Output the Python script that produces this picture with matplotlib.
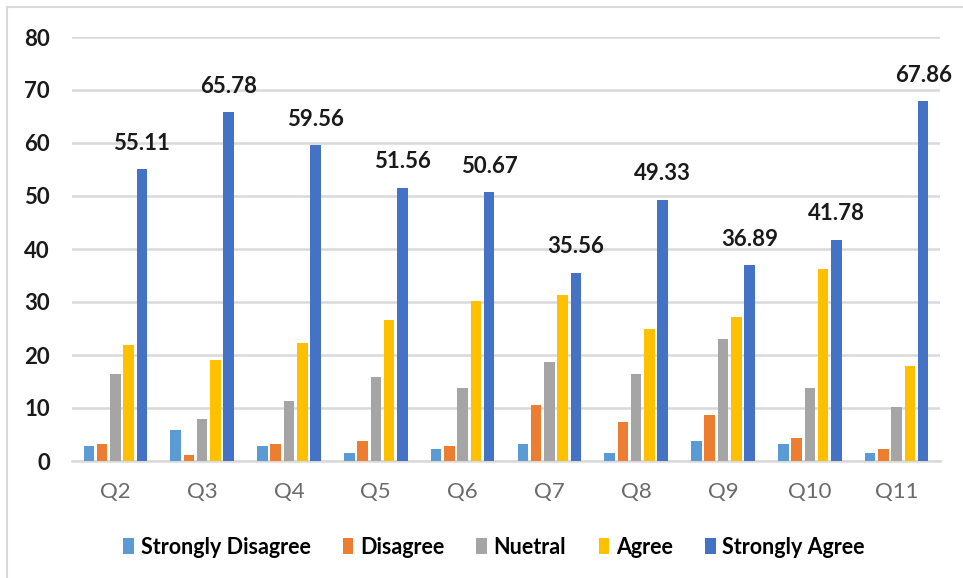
import numpy as np
import matplotlib
matplotlib.use('Agg')
import matplotlib.pyplot as plt
from matplotlib.patches import Patch

plt.rcParams['font.family'] = ['Lato', 'DejaVu Sans']

questions = ['Q2', 'Q3', 'Q4', 'Q5', 'Q6', 'Q7', 'Q8', 'Q9', 'Q10', 'Q11']
series_names = ['Strongly Disagree', 'Disagree', 'Nuetral', 'Agree', 'Strongly Agree']

strongly_disagree = [2.8, 5.8, 2.8, 1.6, 2.2, 3.3, 1.6, 3.8, 3.3, 1.6]
disagree = [3.3, 1.1, 3.3, 3.8, 2.9, 10.6, 7.4, 8.7, 4.3, 2.2]
neutral = [16.4, 7.9, 11.3, 15.9, 13.8, 18.6, 16.4, 23.0, 13.8, 10.1]
agree = [21.8, 19.1, 22.2, 26.6, 30.2, 31.4, 24.9, 27.1, 36.3, 17.9]
strongly_agree = [55.11, 65.78, 59.56, 51.56, 50.67, 35.56, 49.33, 36.89, 41.78, 67.86]

colors = ['#5B9BD5', '#ED7D31', '#A5A5A5', '#FFC000', '#4472C4']
values = [strongly_disagree, disagree, neutral, agree, strongly_agree]

fig = plt.figure(figsize=(9.63, 5.78), dpi=100)
ax = fig.add_axes([72 / 963, 1 - 461 / 578, 868 / 963, 424 / 578])

x = np.arange(len(questions))
step = 0.153
width = 0.122
for i, (vals, c) in enumerate(zip(values, colors)):
    ax.bar(x + (i - 2) * step, vals, width, color=c, zorder=3)

# labels only on the strongly agree bars
for xi, v in zip(x, strongly_agree):
    ax.annotate(f'{v:.2f}', (xi + 2 * step, v), xytext=(0, 11), textcoords='offset points',
                ha='center', va='bottom', fontsize=16, fontweight='bold', color='#1a1a1a')

ax.set_xlim(-0.5, len(questions) - 0.5)
ax.set_ylim(0, 80)
ax.set_yticks(range(0, 81, 10))
ax.set_xticks(x)
ax.set_xticklabels(questions, fontsize=16, color='#6a6a6a')
ax.tick_params(axis='x', length=0, pad=15)
ax.tick_params(axis='y', length=0, pad=16)
for lab in ax.get_yticklabels():
    lab.set_fontsize(16)
    lab.set_fontweight('bold')
    lab.set_color('#1a1a1a')

ax.grid(axis='y', color='#d9d9d9', linewidth=1.8, zorder=0)
for s in ['top', 'right', 'left']:
    ax.spines[s].set_visible(False)
ax.spines['bottom'].set_color('#d9d9d9')
ax.spines['bottom'].set_linewidth(1.8)

handles = [Patch(facecolor=c, label=n) for c, n in zip(colors, series_names)]
fig.legend(handles=handles, loc='center', bbox_to_anchor=(0.513, 1 - 547 / 578), ncol=5,
           frameon=False, handlelength=0.5, handleheight=0.8, handletextpad=0.3,
           columnspacing=1.5, prop={'size': 15.5, 'weight': 'bold'})

# outer chart border (left and top edges visible)
fig.add_artist(plt.Line2D([7 / 963, 7 / 963], [0, 1 - 7 / 578], transform=fig.transFigure,
                          color='#d9d9d9', linewidth=1.5))
fig.add_artist(plt.Line2D([7 / 963, 1], [1 - 7 / 578, 1 - 7 / 578], transform=fig.transFigure,
                          color='#d9d9d9', linewidth=1.5))

fig.savefig('out.png', dpi=100)
